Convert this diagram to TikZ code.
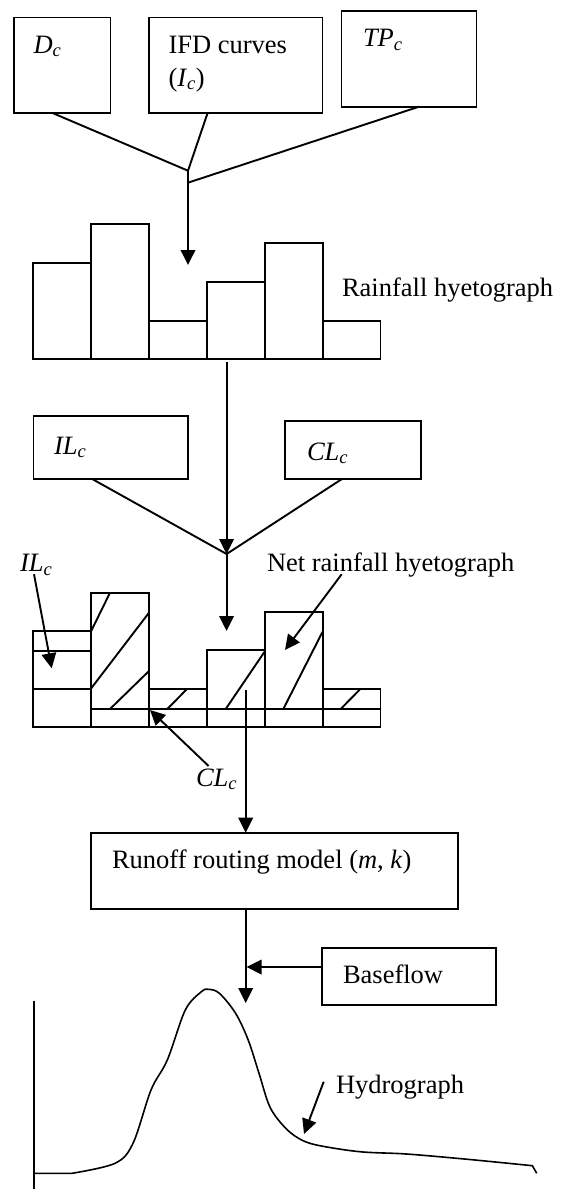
\documentclass[tikz,border=0pt]{standalone}
\usepackage{fontspec}
\setmainfont{Liberation Serif}
\usetikzlibrary{arrows.meta,calc}
\newcommand\mysub[1]{\textsubscript{\itshape #1}}
\begin{document}
\begin{tikzpicture}[x=1pt,y=-1pt, line width=1.9pt,
  box/.style={draw, rectangle, inner sep=0pt, outer sep=0pt, anchor=north west},
  lbl/.style={inner sep=0pt, outer sep=0pt, anchor=base west, font=\fontsize{26.5}{32}\selectfont},
  arr/.style={-{Triangle[length=15pt,width=14.5pt]}},
  ]
\useasboundingbox (0,0) rectangle (560,1189);
% ---------- top boxes
\node[box, minimum width=96.5pt, minimum height=95.8pt] (D) at (14,17.5) {};
\node[box, minimum width=173.8pt, minimum height=95.8pt] (IFD) at (148.7,17.5) {};
\node[box, minimum width=135pt, minimum height=96pt] (TP) at (341.5,10.7) {};
\node[lbl] (Dt) at (33.5,53) {\textit{D}\mysub{c}};
\node[lbl] (IFDt) at (168.5,53) {IFD curves};
\node[lbl] (IFDt2) at (168.5,86) {(\textit{I}\mysub{c})};
\node[lbl] (TPt) at (363,46.7) {\textit{TP}\mysub{c}};
\coordinate (j1) at (188,170.7);
\coordinate (j2) at (188,182.7);
\coordinate (t1) at (188,265);
\draw ($(D.south west)+(39.2,0)$) -- (j1);
\draw ($(IFD.south west)+(58.8,0)$) -- (j1);
\draw ($(TP.south west)+(77.5,0)$) -- (j2);
\draw[arr] (j1) -- (t1);
% ---------- rainfall hyetograph
\draw (33,359.3) rectangle (91.2,262.7);
\draw (91.2,359.3) rectangle (149,224.3);
\draw (149,359.3) rectangle (206.8,320.7);
\draw (206.8,359.3) rectangle (264.6,282);
\draw (264.6,359.3) rectangle (322.6,243.3);
\draw (322.6,359.3) rectangle (380.5,320.7);
\node[lbl] (rh) at (342,296.7) {Rainfall hyetograph};
% ---------- loss boxes
\node[box, minimum width=154.5pt, minimum height=62.7pt] (IL) at (33.5,416) {};
\node[box, minimum width=136pt, minimum height=58pt] (CL) at (285,420.7) {};
\node[lbl] (ILt) at (54,454) {\textit{IL}\mysub{c}};
\node[lbl] (CLt) at (307,460) {\textit{CL}\mysub{c}};
\coordinate (h1) at (226.6,362.3);
\coordinate (j3) at (226.6,554);
\coordinate (t2) at (226.6,631);
\draw ($(IL.south west)+(58.2,0)$) -- (j3) -- ($(CL.south west)+(57.4,0)$);
\draw[arr] (h1) -- (j3);
\draw[arr] (j3) -- (t2);
% ---------- net rainfall hyetograph
\draw (33,727) rectangle (91.2,631);
\draw (33,650.7) -- (91.2,650.7);
\draw (33,689.3) -- (91.2,689.3);
\draw (91.2,727) rectangle (149,592.7);
\draw (149,727) rectangle (206.8,689.3);
\draw (206.8,727) rectangle (264.6,650);
\draw (264.6,727) rectangle (322.6,611.7);
\draw (322.6,727) rectangle (380.5,689.3);
\draw (91.2,709) -- (380.5,709);
% hatching
\draw (110,592.7) -- (91.2,631);
\draw (149,612.7) -- (91.2,688.3);
\draw (149,671) -- (110,709);
\draw (186.7,689.3) -- (167.3,709);
\draw (264.6,651.7) -- (225.7,709);
\draw (322.6,631.7) -- (283.3,709);
\draw (360,689.3) -- (340.7,709);
\node[lbl] (net) at (267,571.7) {Net rainfall hyetograph};
\node[lbl] (il2) at (20,571.7) {\textit{IL}\mysub{c}};
\node[lbl] (cl2) at (196,786) {\textit{CL}\mysub{c}};
\coordinate (tn) at (285,650);
\coordinate (ti) at (51.7,668.3);
\coordinate (tc) at (150,710);
\draw[arr] ($(net.base west)+(74.7,2.5)$) -- (tn);
\draw[arr] ($(il2.base west)+(14,2.5)$) -- (ti);
\draw[arr] ($(cl2.base west)+(12.6,-20)$) -- (tc);
% ---------- runoff routing
\node[box, minimum width=367pt, minimum height=76.6pt] (R) at (91,832.7) {};
\node[lbl] (Rt) at (112,868) {Runoff routing model (\textit{m}, \textit{k})};
\coordinate (h2) at (245.7,690);
\draw[arr] (h2) -- ($(R.north west)+(154.7,0)$);
\coordinate (t3) at (245.7,1003);
\draw[arr] ($(R.south west)+(154.7,0)$) -- (t3);
\node[box, minimum width=174pt, minimum height=57.3pt] (B) at (322,947.7) {};
\node[lbl] (Bt) at (343,983) {Baseflow};
\coordinate (t4) at (246.5,967);
\draw[arr] ($(B.north west)+(0,19.3)$) -- (t4);
% ---------- hydrograph
\draw (34.2,1000.7) -- (34.2,1189);
\draw[line width=1.6pt] (34.2,1173.3) -- (72,1173.3)
  plot[smooth, tension=0.55] coordinates {(72,1173.3) (115,1163.3) (133,1143.3) (151,1090) (167.3,1060)
  (185.3,1010) (201.4,991.7) (208.6,989.3) (219.4,993.3) (235.6,1013.3) (248.2,1040) (259,1073.3)
  (269.8,1106.7) (284.2,1126.7) (298.6,1138.3) (316.5,1145) (359.7,1151.7) (406.5,1154)
  (467.6,1159.3) (532.4,1165.7)} -- (536.7,1173.3);
\node[lbl] (hy) at (336,1093) {Hydrograph};
\coordinate (th) at (304,1134);
\draw[arr] ($(hy.base west)+(-12.3,-11.3)$) -- (th);
\end{tikzpicture}
\end{document}
